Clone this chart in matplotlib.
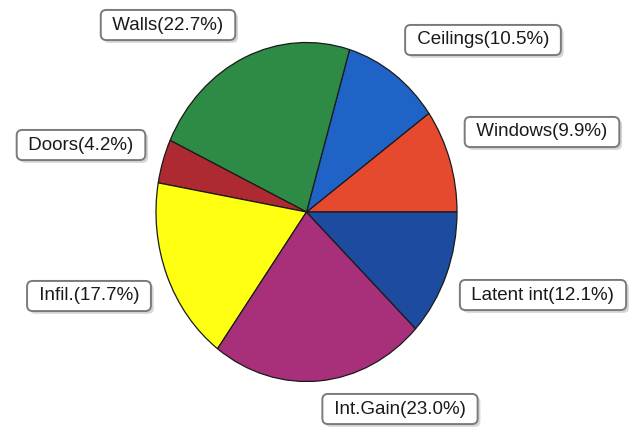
import matplotlib.pyplot as plt
from matplotlib import patheffects as pe

labels = ["Windows", "Ceilings", "Walls", "Doors", "Infil.", "Int.Gain", "Latent int"]
shares = [9.9, 10.5, 22.7, 4.2, 17.7, 23.0, 12.1]
colors = ["#E64A2E", "#1F63C6", "#2E8B45", "#AE2A33", "#FFFF12", "#A8307A", "#1D4BA0"]

# label box centres in pixels (from top-left)
box_pos = {
    "Windows": (542, 132),
    "Ceilings": (483, 40),
    "Walls": (168, 25),
    "Doors": (81, 145),
    "Infil.": (89, 296),
    "Int.Gain": (400, 409),
    "Latent int": (543, 295),
}

W, H = 634, 432
fig = plt.figure(figsize=(W / 100, H / 100), dpi=100)
ax = fig.add_axes([0, 0, 1, 1])

ax.pie(shares, colors=colors, startangle=0, counterclock=True, radius=1,
       wedgeprops=dict(edgecolor="#1a1a1a", linewidth=0.9))

# pie is slightly taller than wide in the original
cx, cy = 306.5, 212
rx, ry = 150.5, 169.5
ax.set_aspect("auto")
ax.set_xlim(-cx / rx, (W - cx) / rx)
ax.set_ylim(-(H - cy) / ry, cy / ry)
ax.axis("off")

for lab, val in zip(labels, shares):
    px, py = box_pos[lab]
    t = fig.text(px / W, 1 - py / H, " %s(%.1f%%) " % (lab, val),
                 ha="center", va="center", fontsize=13.5, color="#1a1a1a",
                 family=["Liberation Sans", "DejaVu Sans"],
                 bbox=dict(boxstyle="round,pad=0.35,rounding_size=0.3",
                           fc="white", ec="#7a7a7a", lw=1.4))
    t.get_bbox_patch().set_path_effects([
        pe.SimplePatchShadow(offset=(2, -2), shadow_rgbFace="#bbbbbb", alpha=0.6),
        pe.Normal()])

plt.savefig("out.png", dpi=100)
